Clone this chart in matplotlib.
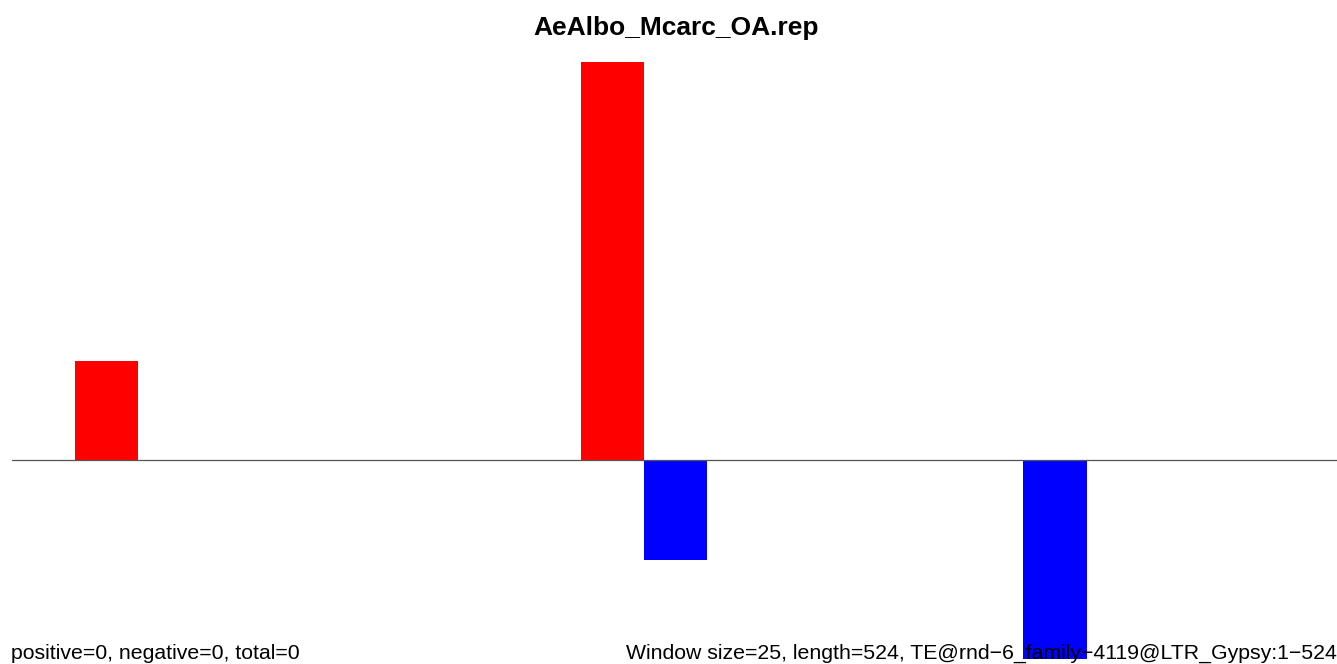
import matplotlib
matplotlib.use("Agg")
import matplotlib.pyplot as plt

plt.rcParams['font.family'] = ['Liberation Sans', 'DejaVu Sans']

title = "AeAlbo_Mcarc_OA.rep"
window = 25
length = 524
pos_starts = [25, 225]
pos_values = [1, 4]
neg_starts = [250, 400]
neg_values = [-1, -2]
left_text = "positive=0, negative=0, total=0"
right_text = "Window size=25, length=524, TE@rnd\u22126_family\u22124119@LTR_Gypsy:1\u2212524"

W, H = 1337, 664
fig = plt.figure(figsize=(W / 100, H / 100), dpi=100)
x0 = 11.75
ax = fig.add_axes([x0 / W, 0, (W - x0) / W, 1])
ax.set_xlim(0, length)
unit = 99.5
ax.set_ylim(-(H - 460) / unit, 460 / unit)
ax.axis('off')

ax.bar(pos_starts, pos_values, width=window, align='edge', color='#ff0000', linewidth=0)
ax.bar(neg_starts, neg_values, width=window, align='edge', color='#0000ff', linewidth=0)
ax.axhline(0, color='#555555', linewidth=0.9, zorder=3)

fig.text(676 / W, 1 - 28 / H, title, ha='center', va='center', fontsize=19, fontweight='bold')
fig.text(11 / W, 1 - 659 / H, left_text, ha='left', va='baseline', fontsize=15.3)
fig.text(1337 / W, 1 - 659 / H, right_text, ha='right', va='baseline', fontsize=15.3, zorder=5)

fig.savefig("out.png", dpi=100)
